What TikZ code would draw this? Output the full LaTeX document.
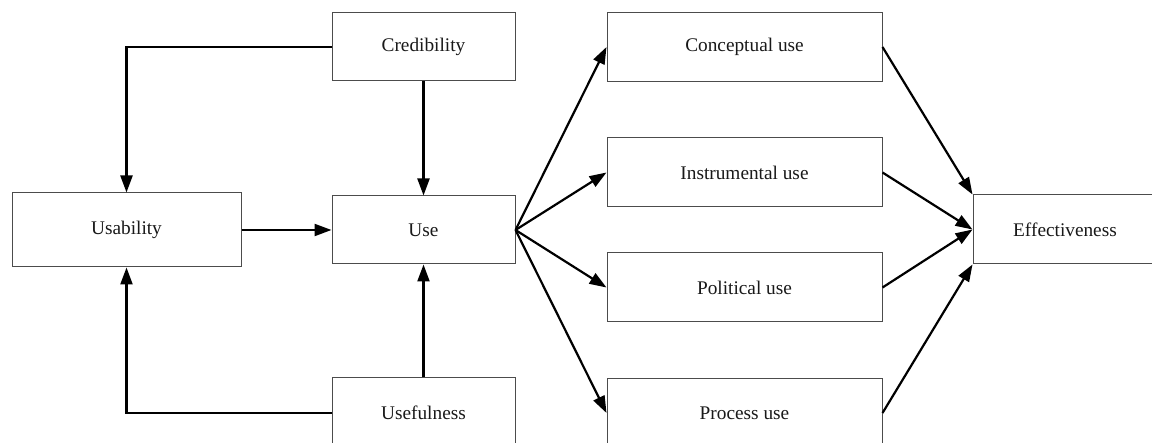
\documentclass[tikz,border=0pt]{standalone}
\usepackage{fontspec}
\setmainfont{Liberation Serif}
\usetikzlibrary{arrows.meta}
\begin{document}
\begin{tikzpicture}[x=1pt,y=-1pt,
  box/.style={draw=black!70, line width=1pt, fill=white, inner sep=0pt,
    font=\fontsize{19.3}{23}\selectfont, text=black!90},
  mid/.style={box, minimum width=183pt, minimum height=68pt},
  usebox/.style={box, minimum width=275pt, minimum height=69pt},
  link/.style={line width=2.2pt, -{Triangle[length=17pt,width=12pt]}}]
\useasboundingbox (0,0) rectangle (1152,443);
\clip (0,0) rectangle (1152,443);

% left part: the three factors and use
\node[box, minimum width=229pt, minimum height=74pt] (usab) at (126.5,230) {Usability};
\node[mid] (cred) at (423.5,47) {Credibility};
\node[mid] (use) at (423.5,230) {Use};
\node[mid, minimum height=70pt] (usef) at (423.5,413) {Usefulness};

% kinds of use
\node[usebox] (conc) at (744.5,47) {Conceptual use};
\node[usebox] (instr) at (744.5,172.5) {Instrumental use};
\node[usebox] (pol) at (744.5,287.5) {Political use};
\node[usebox] (proc) at (744.5,413) {Process use};

% outcome
\node[box, minimum width=184pt, minimum height=69pt] (eff) at (1065,229.5) {Effectiveness};

% connectors
\draw[link] (cred.west) -| (usab.north);
\draw[link] (cred.south) -- (use.north);
\draw[link] (usab.east) -- (use.west);
\draw[link] (usef.north) -- (use.south);
\draw[link] (usef.west) -| (usab.south);

\draw[link] (use.east) -- (conc.west);
\draw[link] (use.east) -- (instr.west);
\draw[link] (use.east) -- (pol.west);
\draw[link] (use.east) -- (proc.west);

\draw[link] (conc.east) -- (eff.north west);
\draw[link] (instr.east) -- (eff.west);
\draw[link] (pol.east) -- (eff.west);
\draw[link] (proc.east) -- (eff.south west);
\end{tikzpicture}
\end{document}
